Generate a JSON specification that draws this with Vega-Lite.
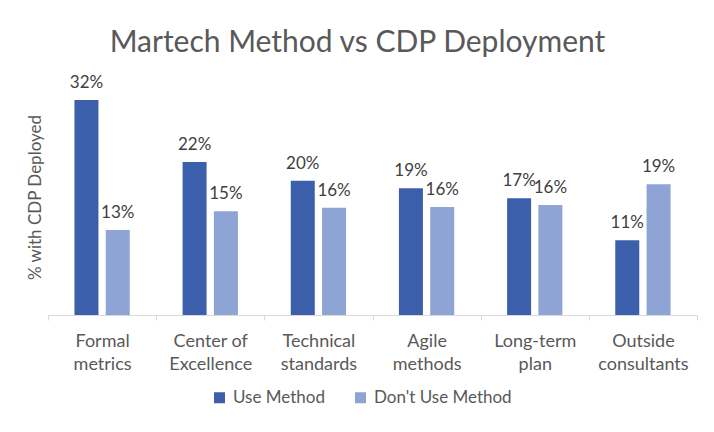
{
  "$schema": "https://vega.github.io/schema/vega-lite/v6.json",
  "autosize": {"type": "none"},
  "width": 649,
  "height": 236,
  "padding": {"left": 48, "top": 79, "right": 17, "bottom": 117},
  "background": "#ffffff",
  "title": {
    "text": "Martech Method vs CDP Deployment",
    "font": "Lato",
    "fontSize": 30,
    "fontWeight": "normal",
    "color": "#595959",
    "anchor": "middle",
    "baseline": "alphabetic",
    "offset": -8,
    "dx": -15
  },
  "data": {
    "values": [
      {"method": "Formal metrics", "group": "Use Method", "value": 31.9, "label": "32%"},
      {"method": "Formal metrics", "group": "Don't Use Method", "value": 12.6, "label": "13%"},
      {"method": "Center of Excellence", "group": "Use Method", "value": 22.7, "label": "22%"},
      {"method": "Center of Excellence", "group": "Don't Use Method", "value": 15.4, "label": "15%"},
      {"method": "Technical standards", "group": "Use Method", "value": 19.9, "label": "20%"},
      {"method": "Technical standards", "group": "Don't Use Method", "value": 15.9, "label": "16%"},
      {"method": "Agile methods", "group": "Use Method", "value": 18.8, "label": "19%"},
      {"method": "Agile methods", "group": "Don't Use Method", "value": 16.0, "label": "16%"},
      {"method": "Long-term plan", "group": "Use Method", "value": 17.3, "label": "17%"},
      {"method": "Long-term plan", "group": "Don't Use Method", "value": 16.3, "label": "16%"},
      {"method": "Outside consultants", "group": "Use Method", "value": 11.1, "label": "11%"},
      {"method": "Outside consultants", "group": "Don't Use Method", "value": 19.4, "label": "19%"}
    ]
  },
  "encoding": {
    "x": {
      "field": "method",
      "type": "nominal",
      "sort": null,
      "scale": {"paddingInner": 0, "paddingOuter": 0},
      "axis": {
        "title": null,
        "labelAngle": 0,
        "labelFont": "Lato",
        "labelFontSize": 18,
        "labelColor": "#595959",
        "labelLineHeight": 23,
        "labelPadding": 12,
        "labelExpr": "indexof(datum.label,'Center')==0 ? ['Center of','Excellence'] : split(datum.label,' ')",
        "tickBand": "extent",
        "tickSize": 5,
        "tickColor": "#D9D9D9",
        "domainColor": "#D9D9D9",
        "grid": false
      }
    },
    "xOffset": {
      "field": "group",
      "type": "nominal",
      "sort": ["Use Method", "Don't Use Method"],
      "scale": {"paddingInner": 0.233, "paddingOuter": 0.845}
    },
    "y": {
      "field": "value",
      "type": "quantitative",
      "scale": {"domain": [0, 35], "nice": false},
      "axis": {
        "title": "% with CDP Deployed",
        "titleFont": "Lato",
        "titleFontSize": 17,
        "titleFontWeight": "normal",
        "titleColor": "#595959",
        "titlePadding": 4,
        "labels": false,
        "ticks": false,
        "domain": false,
        "grid": false
      }
    }
  },
  "layer": [
    {
      "mark": {"type": "bar"},
      "encoding": {
        "color": {
          "field": "group",
          "type": "nominal",
          "scale": {"domain": ["Use Method", "Don't Use Method"], "range": ["#3B5FAA", "#8EA4D4"]},
          "legend": {
            "title": null,
            "orient": "none",
            "direction": "horizontal",
            "legendX": 163,
            "legendY": 310,
            "symbolType": "square",
            "symbolSize": 121,
            "symbolStrokeWidth": 0,
            "labelFont": "Lato",
            "labelFontSize": 17,
            "labelColor": "#595959",
            "labelOffset": 5,
            "columnPadding": 27
          }
        }
      }
    },
    {
      "mark": {"type": "text", "baseline": "alphabetic", "dy": -12, "font": "Lato", "fontSize": 17, "color": "#404040"},
      "encoding": {"text": {"field": "label"}}
    }
  ],
  "config": {"view": {"stroke": null}}
}
